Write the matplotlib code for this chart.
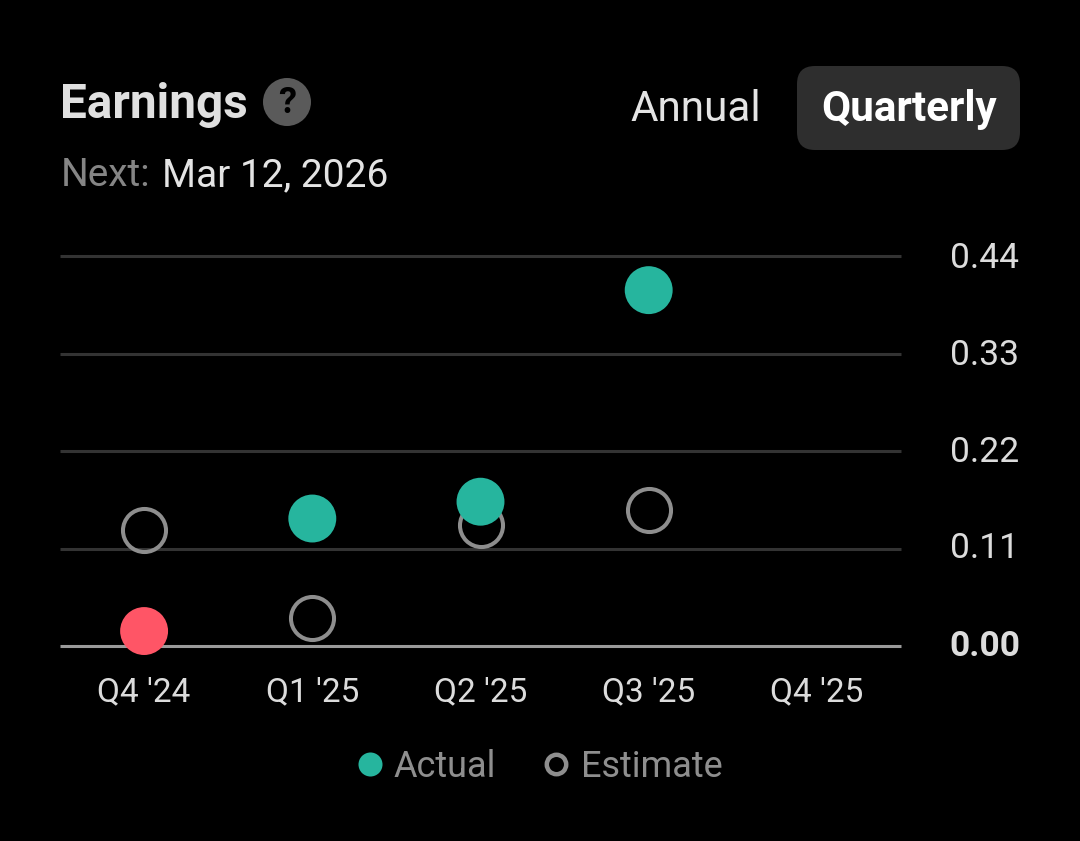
import matplotlib
matplotlib.use('Agg')
import matplotlib.pyplot as plt
from matplotlib.lines import Line2D
from matplotlib.patches import Circle, FancyBboxPatch
from matplotlib.transforms import ScaledTranslation

plt.rcParams['font.family'] = ['Roboto', 'DejaVu Sans']

quarters = ["Q4 '24", "Q1 '25", "Q2 '25", "Q3 '25", "Q4 '25"]
actual = [0.0169, 0.144, 0.163, 0.402]
estimate = [0.131, 0.032, 0.137, 0.154]
y_ticks = [0.00, 0.11, 0.22, 0.33, 0.44]

GREEN = '#26b59e'
RED = '#ff5566'
GRAY = '#8e8e8e'

W, H = 1080, 841
fig = plt.figure(figsize=(W / 100, H / 100), dpi=100, facecolor='black')

# header drawn in pixel coords
page = fig.add_axes([0, 0, 1, 1])
page.set_xlim(0, W)
page.set_ylim(H, 0)
page.axis('off')
page.text(60, 118, 'Earnings', fontsize=34.4, fontweight='bold', color='#e0e0e0')
page.add_patch(Circle((287, 102), 24, color='#5a5a5a', lw=0))
page.text(287, 103, '?', fontsize=26, fontweight='bold', color='black', ha='center', va='center')
page.text(61, 186, 'Next:', fontsize=28, color='#858585')
page.text(162, 186, 'Mar 12, 2026', fontsize=28, color='#e4e4e4')
page.text(696, 121, 'Annual', fontsize=30.4, color='#e4e4e4', ha='center')
page.add_patch(FancyBboxPatch((797 + 18, 66 + 18), 223 - 36, 84 - 36,
                              boxstyle='round,pad=18,rounding_size=18', lw=0, fc='#2e2e2e'))
page.text(909, 121, 'Quarterly', fontsize=30.4, fontweight='bold', color='white', ha='center')

# chart area: gridlines run 60..901 px, 0.44 at y=256.5, 0.00 at y=646
ax = fig.add_axes([60 / W, 1 - 646 / H, 841 / W, 389.5 / H], facecolor='none')
ax.set_xlim(-0.5, 4.5)
ax.set_ylim(0, 0.44)
for s in ax.spines.values():
    s.set_visible(False)

for v in y_ticks:
    if v == 0:
        ax.axhline(v, color='#9a9a9a', lw=2.2, clip_on=False, zorder=1, solid_capstyle='butt')
    else:
        ax.axhline(v, color='#333333', lw=2.2, clip_on=False, zorder=1, solid_capstyle='butt')

ax.plot(range(len(estimate)), estimate, ls='none', marker='o', ms=31, mfc='none',
        mec=GRAY, mew=2.9, clip_on=False, zorder=2)
colors = [GREEN if a >= e else RED for a, e in zip(actual, estimate)]
ax.scatter(range(len(actual)), actual, s=34.5 ** 2, c=colors, lw=0, clip_on=False, zorder=3)

ax.set_xticks(range(len(quarters)))
ax.set_xticklabels(quarters, fontsize=24, color='#dcdcdc')
ax.tick_params(axis='x', length=0, pad=22)
ax.yaxis.tick_right()
ax.set_yticks(y_ticks)
ax.set_yticklabels(['%.2f' % v for v in y_ticks], fontsize=25.5, color='#dcdcdc')
ax.tick_params(axis='y', length=0, pad=35)
# labels sit slightly tighter than the gridlines in the original
for lab, shift in zip(ax.get_yticklabels(), [3, 4, 2.5, 2, 1]):
    lab.set_transform(lab.get_transform() + ScaledTranslation(0, shift / 100, fig.dpi_scale_trans))
ax.get_yticklabels()[0].set_fontweight('bold')
ax.get_yticklabels()[0].set_fontsize(25.5)

handles = [
    Line2D([], [], ls='none', marker='o', ms=17.3, mfc=GREEN, mec='none', label='Actual'),
    Line2D([], [], ls='none', marker='o', ms=14, mfc='none', mec=GRAY, mew=3.2, label='Estimate'),
]
leg = fig.legend(handles=handles, ncol=2, loc='center', bbox_to_anchor=(537 / W, 1 - 767 / H),
                 frameon=False, fontsize=26, handlelength=1, handletextpad=0.17,
                 columnspacing=1.17, borderpad=0)
for t in leg.get_texts():
    t.set_color(GRAY)

fig.savefig('out.png', dpi=100, facecolor='black')
